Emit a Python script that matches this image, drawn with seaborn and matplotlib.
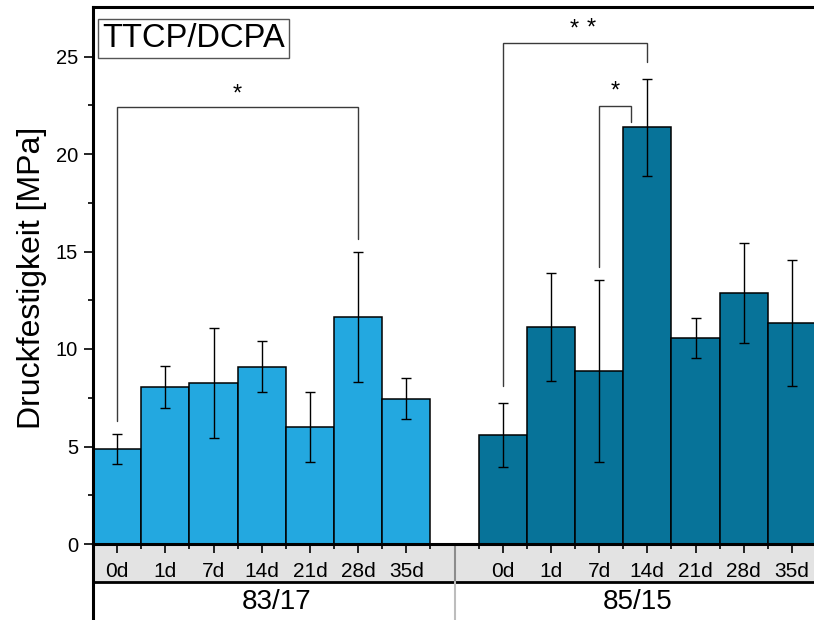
import numpy as np
import pandas as pd
import matplotlib
matplotlib.use("Agg")
import matplotlib.pyplot as plt
import seaborn as sns

# Compressive strength of TTCP/DCPA cements (two powder ratios) after storage
groups = ["83/17", "85/15"]
days = ["0d", "1d", "7d", "14d", "21d", "28d", "35d"]
strength_83_17 = [4.88, 8.04, 8.26, 9.10, 6.01, 11.66, 7.46]
sd_83_17 = [0.77, 1.08, 2.83, 1.31, 1.81, 3.33, 1.04]
strength_85_15 = [5.61, 11.14, 8.87, 21.37, 10.55, 12.87, 11.33]
sd_85_15 = [1.64, 2.76, 4.68, 2.50, 1.03, 2.56, 3.22]
group_colors = ["#23a8e0", "#077399"]

sns.set_style("ticks")
plt.rcParams["font.family"] = ["Liberation Sans", "DejaVu Sans"]
plt.rcParams["text.color"] = "black"
plt.rcParams["axes.labelcolor"] = "black"
plt.rcParams["xtick.color"] = "black"
plt.rcParams["ytick.color"] = "black"

# one empty slot between the two groups
slot = len(days) + 1
rows = []
for g, (vals, sds) in enumerate([(strength_83_17, sd_83_17), (strength_85_15, sd_85_15)]):
    for i, (d, v, s) in enumerate(zip(days, vals, sds)):
        rows.append({"pos": g * slot + i, "day": d, "group": groups[g], "value": v, "sd": s})
df = pd.DataFrame(rows)

W, H = 814, 620
fig = plt.figure(figsize=(W / 100, H / 100), dpi=100)
px_unit = 48.2
left_px, bottom_px, top_px = 93, 544, 7
ax = fig.add_axes([left_px / W, (H - bottom_px) / H, 15 * px_unit / W, (bottom_px - top_px) / H])
axb = fig.add_axes([left_px / W, -20 / H, 15 * px_unit / W, 96 / H])
ax.set_zorder(2)
axb.set_zorder(1)

sns.barplot(data=df, x="pos", y="value", hue="group", palette=group_colors,
            saturation=1, native_scale=True, width=1.0, dodge=False, edgecolor="black",
            linewidth=1.1, errorbar=None, legend=False, ax=ax, zorder=2)
ax.errorbar(df["pos"], df["value"], yerr=df["sd"], fmt="none", ecolor="black",
            elinewidth=1.0, capsize=3.6, capthick=1.0, zorder=3)

ax.set_xlim(-0.5, 14.5)
ax.set_ylim(0, (bottom_px - top_px) / 19.5)
ax.set_yticks(np.arange(0, 26, 5))
ax.set_yticks(np.arange(2.5, 27, 5), minor=True)
ax.set_xticks(df["pos"])
ax.set_xticklabels(df["day"])
edges = [p + 0.5 for p in range(0, 7)] + [p - 0.5 for p in range(slot, slot + 7)]
ax.set_xticks(edges, minor=True)
ax.set_xlabel("")
ax.set_ylabel("Druckfestigkeit [MPa]", fontsize=23, color="black")
ax.yaxis.set_label_coords(-0.064, 0.495)

ax.tick_params(axis="y", which="major", direction="out", length=6.5, width=1.2,
               pad=4.3, labelsize=14.5, color="black", labelcolor="black")
ax.tick_params(axis="y", which="minor", direction="out", length=3.6, width=1.2, color="black")
ax.tick_params(axis="x", which="major", direction="out", length=6.5, width=1.2,
               pad=6.3, labelsize=15, color="black", labelcolor="black")
ax.tick_params(axis="x", which="minor", direction="out", length=3.6, width=1.2, color="black")
for side in ["left", "bottom", "top", "right"]:
    ax.spines[side].set_visible(True)
    ax.spines[side].set_color("black")
    ax.spines[side].set_linewidth(2.2)

# significance brackets: (x_left, x_right, y_left_end, y_top, y_right_end)
brackets = [
    (0, 5, 6.32, 22.41, 15.64),
    (8, 11, 8.10, 25.69, 24.72),
    (10, 10.67, 14.20, 22.46, 21.64),
]
for x1, x2, y1, yt, y2 in brackets:
    ax.plot([x1, x1, x2, x2], [y1, yt, yt, y2], color="#3a3a3a", lw=1.0, zorder=4,
            solid_joinstyle="miter")
stars = [(2.5, 22.75, "*"), (9.49, 26.05, "*"), (9.84, 26.15, "*"), (10.33, 22.9, "*")]
for x, y, s in stars:
    ax.text(x, y, s, ha="center", va="baseline", fontsize=17, color="black", zorder=5)

ax.text(-0.307, 25.49, "TTCP/DCPA", ha="left", va="baseline", fontsize=23.5,
        bbox=dict(boxstyle="square,pad=0.13", facecolor="white", edgecolor="#555555",
                  linewidth=1.0), zorder=6)

# category band below the bars
axb.set_xlim(-0.5, 14.5)
axb.set_ylim(96, 0)
axb.set_xticks([])
axb.set_yticks([])
for side in ["top", "right", "bottom"]:
    axb.spines[side].set_visible(False)
axb.spines["left"].set_color("black")
axb.spines["left"].set_linewidth(2.2)
axb.axhspan(0, 37.7, color="#e3e3e3", zorder=0)
axb.axhline(37.7, color="black", lw=2.0, zorder=1)
axb.plot([7, 7], [0, 37.7], color="#8c8c8c", lw=1.5, zorder=2)
axb.plot([7, 7], [37.7, 96], color="#bdbdbd", lw=1.5, zorder=2)
for g, name in enumerate(groups):
    xc = 3.3 if g == 0 else 10.8
    axb.text(xc, 65.3, name, ha="center", va="baseline", fontsize=20, color="black")

fig.savefig("out.png", dpi=100)
